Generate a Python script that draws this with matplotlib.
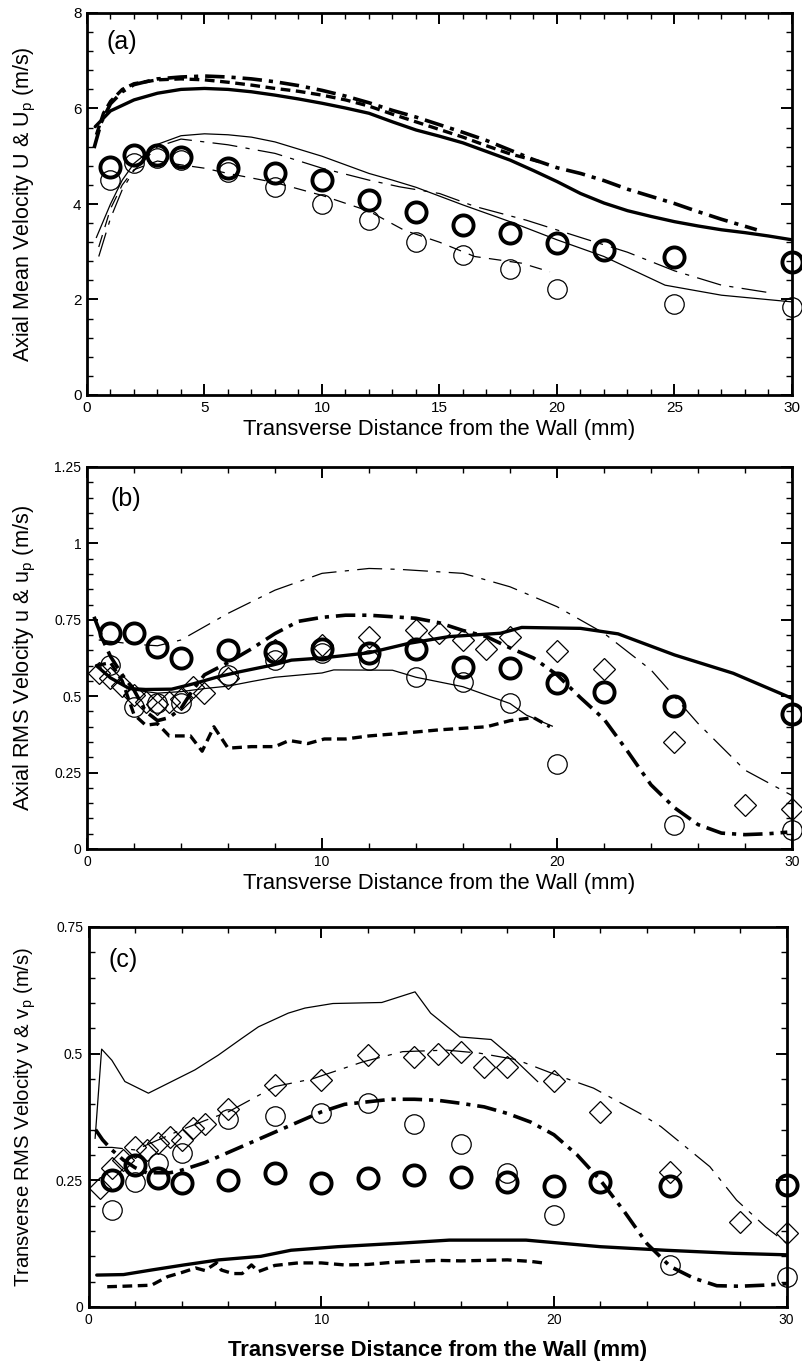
import matplotlib
matplotlib.use('Agg')
import matplotlib.pyplot as plt
from matplotlib.ticker import MultipleLocator, FuncFormatter

plt.rcParams['font.family'] = ['Liberation Sans', 'DejaVu Sans']
plt.rcParams['mathtext.fontset'] = 'custom'
plt.rcParams['mathtext.rm'] = 'Liberation Sans'
plt.rcParams['mathtext.it'] = 'Liberation Sans:italic'
plt.rcParams['mathtext.bf'] = 'Liberation Sans:bold'
plt.rcParams['lines.scale_dashes'] = False

# ---------------- Panel (a): axial mean velocity ----------------
a_circ_x = [1, 2, 3, 4, 6, 8, 10, 12, 14, 16, 18, 20, 22, 25, 30]
a_thick_circ_y = [4.78, 5.03, 5.03, 4.99, 4.75, 4.64, 4.50, 4.08, 3.84, 3.56, 3.39, 3.19, 3.04, 2.88, 2.79]
a_thin_circ_x = [1, 2, 3, 4, 6, 8, 10, 12, 14, 16, 18, 20, 25, 30]
a_thin_circ_y = [4.50, 4.85, 4.96, 4.92, 4.68, 4.36, 4.01, 3.66, 3.21, 2.93, 2.63, 2.23, 1.90, 1.84]

a_thick_solid_x = [0.35, 1, 2, 3, 4, 5, 6, 7, 8, 9, 10, 11, 12, 13, 14, 15, 16, 17, 18, 19, 20, 21, 22, 22.5, 23, 24, 25, 26, 27, 28, 29, 30]
a_thick_solid_y = [5.62, 5.95, 6.18, 6.32, 6.40, 6.42, 6.40, 6.35, 6.28, 6.20, 6.11, 6.01, 5.90, 5.72, 5.55, 5.42, 5.28, 5.10, 4.92, 4.70, 4.47, 4.22, 4.02, 3.94, 3.86, 3.74, 3.63, 3.54, 3.46, 3.40, 3.33, 3.25]
a_thick_dashdot_x = [0.3, 0.6, 1, 1.5, 2, 3, 4, 5, 6, 7, 8, 9, 10, 11, 12, 13, 14, 15, 16, 17, 18, 19, 20, 21, 22, 23, 24, 25, 26, 27, 28.5]
a_thick_dashdot_y = [5.17, 5.70, 6.10, 6.35, 6.50, 6.62, 6.66, 6.68, 6.66, 6.62, 6.56, 6.48, 6.38, 6.26, 6.12, 5.96, 5.82, 5.66, 5.50, 5.33, 5.13, 4.93, 4.76, 4.64, 4.49, 4.31, 4.16, 4.01, 3.84, 3.68, 3.46]
a_thick_dashed_x = [0.4, 0.7, 1, 1.5, 2, 3, 4, 5, 6, 7, 8, 9, 10, 11, 12, 13, 14, 15, 16, 17, 18, 19.3]
a_thick_dashed_y = [5.45, 5.90, 6.15, 6.40, 6.52, 6.60, 6.62, 6.60, 6.55, 6.49, 6.42, 6.36, 6.28, 6.18, 6.05, 5.88, 5.72, 5.56, 5.40, 5.22, 5.05, 4.88]
a_thin_solid_x = [0.4, 1, 1.5, 2, 3, 4, 5, 6, 7, 8, 9, 10, 11, 12, 13, 14, 16, 18, 20, 22, 24.6, 27, 30]
a_thin_solid_y = [3.30, 4.00, 4.50, 4.85, 5.25, 5.43, 5.47, 5.45, 5.40, 5.30, 5.15, 5.00, 4.82, 4.64, 4.50, 4.35, 3.98, 3.63, 3.25, 2.90, 2.30, 2.09, 1.95]
a_thin_dashdot_x = [0.5, 1, 1.5, 2, 3, 4, 6, 8, 10, 12, 13.3, 15, 16.5, 18.7, 21, 23, 25, 27, 29.2]
a_thin_dashdot_y = [2.90, 3.70, 4.30, 4.70, 5.20, 5.36, 5.24, 5.06, 4.75, 4.50, 4.36, 4.22, 3.95, 3.66, 3.30, 2.99, 2.60, 2.30, 2.13]
a_thin_dashed_x = [0.5, 1, 1.5, 2, 3, 4, 5, 6, 8, 10, 12, 13.5, 15, 16.5, 18.5, 19.7]
a_thin_dashed_y = [3.10, 3.90, 4.40, 4.72, 4.90, 4.82, 4.75, 4.64, 4.45, 4.18, 3.85, 3.45, 3.20, 2.90, 2.76, 2.58]

# ---------------- Panel (b): axial RMS velocity ----------------
b_circ_x = [1, 2, 3, 4, 6, 8, 10, 12, 14, 16, 18, 20, 22, 25, 30]
b_thick_circ_y = [0.706, 0.708, 0.662, 0.624, 0.651, 0.646, 0.654, 0.640, 0.654, 0.597, 0.591, 0.542, 0.515, 0.469, 0.442]
b_thin_circ_x = [1, 2, 3, 4, 6, 8, 10, 12, 14, 16, 18, 20, 25, 30]
b_thin_circ_y = [0.602, 0.466, 0.477, 0.477, 0.569, 0.618, 0.640, 0.618, 0.562, 0.548, 0.477, 0.278, 0.079, 0.062]
b_diam_x = [0.5, 1, 1.5, 2, 2.5, 3, 3.5, 4, 4.5, 5, 6, 8, 10, 12, 14, 15, 16, 17, 18, 20, 22, 25, 28, 30]
b_diam_y = [0.575, 0.560, 0.535, 0.505, 0.480, 0.475, 0.480, 0.490, 0.530, 0.510, 0.560, 0.650, 0.667, 0.695, 0.718, 0.706, 0.684, 0.656, 0.695, 0.649, 0.589, 0.351, 0.144, 0.131]

b_thick_solid_x = [0.4, 1, 1.8, 2.5, 3.6, 4.5, 5.6, 6.5, 7.9, 8.7, 10, 12, 13.7, 15.4, 17.6, 18.5, 21, 22.6, 25, 27.5, 30]
b_thick_solid_y = [0.600, 0.560, 0.525, 0.522, 0.523, 0.540, 0.564, 0.580, 0.602, 0.618, 0.625, 0.642, 0.673, 0.695, 0.706, 0.725, 0.722, 0.704, 0.635, 0.575, 0.493]
b_thick_dashdot_x = [0.3, 0.7, 1.0, 1.5, 2.0, 2.5, 3.0, 3.5, 4.0, 4.5, 5, 6, 7, 8, 9, 10, 11, 12, 13, 14, 15, 16, 17, 18, 19, 20, 21, 22, 23, 24, 25, 26, 27, 28, 29, 29.8]
b_thick_dashdot_y = [0.760, 0.680, 0.630, 0.570, 0.520, 0.450, 0.420, 0.430, 0.460, 0.520, 0.570, 0.610, 0.655, 0.705, 0.745, 0.758, 0.765, 0.765, 0.760, 0.755, 0.740, 0.715, 0.695, 0.658, 0.625, 0.570, 0.495, 0.425, 0.320, 0.210, 0.135, 0.080, 0.052, 0.047, 0.050, 0.055]
b_thick_dashed_x = [0.4, 1, 1.5, 2, 2.5, 3, 3.5, 4, 4.4, 4.9, 5.4, 6.0, 7, 8, 8.6, 9.4, 10.1, 11, 12, 13.3, 15, 16, 17, 18, 19, 19.7]
b_thick_dashed_y = [0.600, 0.610, 0.550, 0.440, 0.405, 0.410, 0.370, 0.370, 0.370, 0.320, 0.400, 0.330, 0.335, 0.335, 0.355, 0.345, 0.360, 0.360, 0.370, 0.378, 0.390, 0.395, 0.400, 0.420, 0.430, 0.400]
b_thin_solid_x = [0.4, 1, 2, 3, 4, 5, 6, 7, 8, 9, 10, 10.5, 13, 14, 16, 18, 18.7, 19.8]
b_thin_solid_y = [0.600, 0.560, 0.520, 0.510, 0.515, 0.525, 0.533, 0.548, 0.562, 0.569, 0.576, 0.586, 0.585, 0.562, 0.531, 0.476, 0.438, 0.402]
b_thin_dashdot_x = [0.5, 2, 3, 4, 6, 8, 10, 12, 13.3, 16, 18, 20, 22, 24, 26, 28, 30]
b_thin_dashdot_y = [0.684, 0.670, 0.665, 0.684, 0.771, 0.847, 0.902, 0.918, 0.915, 0.902, 0.858, 0.793, 0.706, 0.586, 0.411, 0.258, 0.175]

# ---------------- Panel (c): transverse RMS velocity ----------------
c_circ_x = [1, 2, 3, 4, 6, 8, 10, 12, 14, 16, 18, 20, 22, 25, 30]
c_thick_circ_y = [0.251, 0.280, 0.254, 0.244, 0.251, 0.265, 0.244, 0.254, 0.260, 0.257, 0.247, 0.239, 0.247, 0.239, 0.241]
c_thin_circ_x = [1, 2, 3, 4, 6, 8, 10, 12, 14, 16, 18, 20, 25, 30]
c_thin_circ_y = [0.191, 0.247, 0.284, 0.303, 0.372, 0.376, 0.382, 0.403, 0.361, 0.322, 0.264, 0.182, 0.083, 0.059]
c_diam_x = [0.5, 1, 1.5, 2, 2.5, 3, 3.5, 4, 4.5, 5, 6, 8, 10, 12, 14, 15, 16, 17, 18, 20, 22, 25, 28, 30]
c_diam_y = [0.235, 0.275, 0.290, 0.315, 0.310, 0.323, 0.336, 0.330, 0.353, 0.362, 0.390, 0.438, 0.448, 0.497, 0.494, 0.500, 0.504, 0.474, 0.474, 0.446, 0.384, 0.267, 0.168, 0.147]

c_thick_solid_x = [0.35, 1.5, 2.7, 4.1, 5.6, 7.4, 8.7, 10.7, 13.4, 15.5, 18.8, 22, 24.8, 27.7, 30]
c_thick_solid_y = [0.063, 0.064, 0.073, 0.083, 0.093, 0.100, 0.112, 0.119, 0.126, 0.132, 0.132, 0.119, 0.112, 0.106, 0.103]
c_thick_dashdot_x = [0.3, 0.6, 1.0, 1.5, 2, 2.5, 3, 3.5, 4, 5, 6, 7, 8, 9, 10, 11, 12, 13, 14, 15, 16, 17, 18, 19, 20, 21, 22, 23, 24, 25, 26, 27, 28, 29, 30]
c_thick_dashdot_y = [0.350, 0.330, 0.310, 0.290, 0.275, 0.265, 0.265, 0.265, 0.270, 0.285, 0.305, 0.325, 0.345, 0.365, 0.385, 0.400, 0.405, 0.410, 0.410, 0.408, 0.402, 0.395, 0.382, 0.365, 0.340, 0.300, 0.250, 0.190, 0.125, 0.080, 0.057, 0.042, 0.041, 0.043, 0.046]
c_thick_dashed_x = [0.8, 1.5, 2.7, 3.4, 4.0, 4.6, 5.0, 5.5, 5.7, 6.2, 6.6, 7.0, 7.3, 8, 9, 10, 11, 12, 13, 14, 15, 16, 17, 18, 19, 19.7]
c_thick_dashed_y = [0.040, 0.041, 0.043, 0.060, 0.068, 0.077, 0.072, 0.087, 0.073, 0.066, 0.066, 0.083, 0.070, 0.082, 0.087, 0.087, 0.083, 0.084, 0.088, 0.090, 0.092, 0.091, 0.092, 0.093, 0.090, 0.086]
c_thin_solid_x = [0.28, 0.56, 1.0, 1.56, 2.57, 3.57, 4.57, 5.57, 6.58, 7.3, 8.58, 9.3, 10.5, 12.6, 14.03, 14.7, 15.96, 17.3, 18.25, 19.3]
c_thin_solid_y = [0.333, 0.509, 0.487, 0.445, 0.422, 0.445, 0.468, 0.497, 0.530, 0.553, 0.580, 0.590, 0.599, 0.601, 0.622, 0.580, 0.533, 0.528, 0.491, 0.445]
c_thin_dashdot_x = [0.4, 1, 2, 3, 4, 5, 6, 8, 9.6, 11.8, 13.5, 15.4, 16.8, 18.4, 20.1, 21.7, 23.7, 24.6, 26.7, 27.85, 29.1, 30]
c_thin_dashdot_y = [0.315, 0.315, 0.310, 0.330, 0.350, 0.368, 0.385, 0.435, 0.450, 0.484, 0.504, 0.507, 0.501, 0.488, 0.458, 0.432, 0.382, 0.356, 0.277, 0.211, 0.158, 0.126]

# ---------------- styles ----------------
TS = dict(color='black', lw=2.4, solid_capstyle='round')
TDD = dict(color='black', lw=2.6, dashes=(14, 5, 3, 5))
TD = dict(color='black', lw=2.4, dashes=(7, 4))
NS = dict(color='black', lw=0.9)
NDD = dict(color='black', lw=0.9, dashes=(18, 6, 3, 6))
ND = dict(color='black', lw=0.9, dashes=(9, 6))
M_THICK = dict(ls='none', marker='o', ms=14.5, mfc='none', mec='black', mew=2.8, clip_on=False)
M_THIN = dict(ls='none', marker='o', ms=14, mfc='none', mec='black', mew=0.9, clip_on=False)
M_DIAM = dict(ls='none', marker='D', ms=11.5, mfc='none', mec='black', mew=0.9, clip_on=False)

fig = plt.figure(figsize=(8.03, 13.63), dpi=100)
axA = fig.add_axes([87/803, 1-395/1363, 705/803, 382/1363])
axB = fig.add_axes([87/803, 1-849/1363, 705/803, 382/1363])
axC = fig.add_axes([88.6/803, 1-1307/1363, 698/803, 380/1363])


def fmt(v, pos):
    return '{:g}'.format(round(v, 4))


def style(ax, ymax, ymaj, ymin, xmaj, xmin, tsize):
    ax.set_xlim(0, 30)
    ax.set_ylim(0, ymax)
    ax.xaxis.set_major_locator(MultipleLocator(xmaj))
    ax.xaxis.set_minor_locator(MultipleLocator(xmin))
    ax.yaxis.set_major_locator(MultipleLocator(ymaj))
    ax.yaxis.set_minor_locator(MultipleLocator(ymin))
    ax.xaxis.set_major_formatter(FuncFormatter(fmt))
    ax.yaxis.set_major_formatter(FuncFormatter(fmt))
    ax.tick_params(which='both', direction='in', top=True, right=True, labelsize=tsize)
    ax.tick_params(which='major', length=8, width=1.4, pad=4)
    ax.tick_params(which='minor', length=4.5, width=1.0)
    for s in ax.spines.values():
        s.set_linewidth(2.0)


XLAB = 'Transverse Distance from the Wall (mm)'

# Panel (a)
axA.plot(a_thick_solid_x, a_thick_solid_y, **TS)
axA.plot(a_thick_dashdot_x, a_thick_dashdot_y, **TDD)
axA.plot(a_thick_dashed_x, a_thick_dashed_y, **TD)
axA.plot(a_thin_solid_x, a_thin_solid_y, **NS)
axA.plot(a_thin_dashdot_x, a_thin_dashdot_y, **NDD)
axA.plot(a_thin_dashed_x, a_thin_dashed_y, **ND)
axA.plot(a_circ_x, a_thick_circ_y, **M_THICK)
axA.plot(a_thin_circ_x, a_thin_circ_y, **M_THIN)
style(axA, 8, 2, 0.4, 5, 1, 11)
axA.set_xlabel(XLAB, fontsize=15.8, labelpad=3)
axA.set_ylabel('Axial Mean Velocity U & U$_{\\rm p}$ (m/s)', fontsize=15.5)
axA.yaxis.set_label_coords(-0.07, 0.5)
axA.text(0.027, 0.925, '(a)', transform=axA.transAxes, fontsize=18, va='center', ha='left')

# Panel (b)
axB.plot(b_thick_solid_x, b_thick_solid_y, **TS)
axB.plot(b_thick_dashdot_x, b_thick_dashdot_y, **TDD)
axB.plot(b_thick_dashed_x, b_thick_dashed_y, **TD)
axB.plot(b_thin_solid_x, b_thin_solid_y, **NS)
axB.plot(b_thin_dashdot_x, b_thin_dashdot_y, **NDD)
axB.plot(b_circ_x, b_thick_circ_y, **M_THICK)
axB.plot(b_thin_circ_x, b_thin_circ_y, **M_THIN)
axB.plot(b_diam_x, b_diam_y, **M_DIAM)
style(axB, 1.25, 0.25, 0.05, 10, 2, 10)
axB.set_xlabel(XLAB, fontsize=15.8, labelpad=3)
axB.set_ylabel('Axial RMS Velocity u & u$_{\\rm p}$ (m/s)', fontsize=15.7)
axB.yaxis.set_label_coords(-0.07, 0.5)
axB.text(0.033, 0.916, '(b)', transform=axB.transAxes, fontsize=18, va='center', ha='left')

# Panel (c)
axC.plot(c_thick_solid_x, c_thick_solid_y, **TS)
axC.plot(c_thick_dashdot_x, c_thick_dashdot_y, **TDD)
axC.plot(c_thick_dashed_x, c_thick_dashed_y, **TD)
axC.plot(c_thin_solid_x, c_thin_solid_y, **NS)
axC.plot(c_thin_dashdot_x, c_thin_dashdot_y, **NDD)
axC.plot(c_circ_x, c_thick_circ_y, **M_THICK)
axC.plot(c_thin_circ_x, c_thin_circ_y, **M_THIN)
axC.plot(c_diam_x, c_diam_y, **M_DIAM)
style(axC, 0.75, 0.25, 0.05, 10, 2, 10)
axC.set_xlabel(XLAB, fontsize=15.8, fontweight='bold', labelpad=10)
axC.set_ylabel('Transverse RMS Velocity v & v$_{\\rm p}$ (m/s)', fontsize=14.6)
axC.yaxis.set_label_coords(-0.072, 0.5)
axC.text(0.028, 0.913, '(c)', transform=axC.transAxes, fontsize=18, va='center', ha='left')

fig.savefig('out.png', dpi=100)
